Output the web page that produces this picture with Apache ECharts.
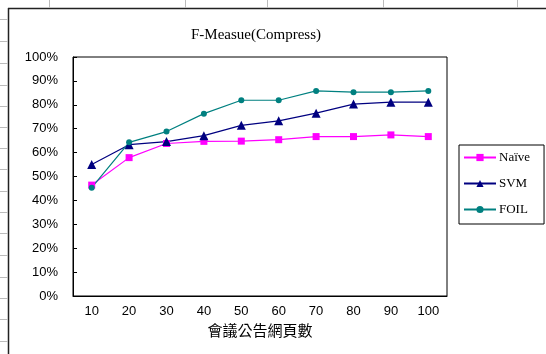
<!DOCTYPE html>
<html>
<head>
<meta charset="utf-8">
<script src="https://cdn.jsdelivr.net/npm/echarts@6/dist/echarts.min.js"></script>
<style>
  html, body { margin: 0; padding: 0; background: #ffffff; }
  #chart { width: 546px; height: 354px; }
</style>
</head>
<body>
<div id="chart"></div>
<script>
// Number of conference announcement pages
const categories = ['10', '20', '30', '40', '50', '60', '70', '80', '90', '100'];

// F-measure (%) per classifier
const naive = [46.4, 57.9, 63.8, 64.7, 64.8, 65.4, 66.7, 66.7, 67.4, 66.7];
const svm   = [55.0, 63.3, 64.6, 67.1, 71.4, 73.3, 76.5, 80.3, 81.1, 81.1];
const foil  = [45.3, 64.3, 68.8, 76.3, 81.9, 81.9, 85.8, 85.3, 85.3, 85.8];

const seriesNames = ['Naïve', 'SVM', 'FOIL'];

const serif = '"Liberation Serif", "Times New Roman", serif';
const sans = '"Liberation Sans", Arial, sans-serif';

// Sheet frame: outer border plus the faint row/column ticks around it
const frame = [
  { type: 'line', shape: { x1: 8, y1: 8.5, x2: 546, y2: 8.5 }, style: { stroke: '#222', lineWidth: 1.5 } },
  { type: 'line', shape: { x1: 8.5, y1: 8, x2: 8.5, y2: 354 }, style: { stroke: '#222', lineWidth: 1.5 } }
];
[49, 185, 267, 383, 517].forEach(function (x) {
  frame.push({ type: 'line', shape: { x1: x + 0.5, y1: 0, x2: x + 0.5, y2: 8 }, style: { stroke: '#bbb', lineWidth: 1 } });
});
[19, 41, 63, 85, 106, 127, 148, 169, 191, 212, 233, 255, 277, 298, 319, 341].forEach(function (y) {
  frame.push({ type: 'line', shape: { x1: 0, y1: y + 0.5, x2: 8, y2: y + 0.5 }, style: { stroke: '#bbb', lineWidth: 1 } });
});

const chart = echarts.init(document.getElementById('chart'), null, { renderer: 'canvas' });

chart.setOption({
  backgroundColor: '#ffffff',
  animation: false,
  graphic: frame,
  title: {
    text: 'F-Measue(Compress)',
    left: 251,
    top: 23,
    textAlign: 'center',
    textStyle: { fontFamily: serif, fontSize: 15, fontWeight: 'normal', color: '#000' }
  },
  legend: {
    orient: 'vertical',
    left: 459,
    top: 145,
    width: 83,
    padding: [6, 14, 8, 4],
    borderColor: '#000',
    borderWidth: 1,
    backgroundColor: '#fff',
    itemWidth: 32,
    itemHeight: 9,
    itemGap: 13,
    data: seriesNames,
    textStyle: { fontFamily: serif, fontSize: 13, color: '#000', padding: [0, 0, 0, -2] }
  },
  grid: {
    left: 73,
    right: 99,
    top: 57,
    bottom: 58,
    show: true,
    borderColor: '#000',
    borderWidth: 1,
    backgroundColor: 'transparent'
  },
  xAxis: {
    type: 'category',
    data: categories,
    boundaryGap: true,
    name: '會議公告網頁數',
    nameLocation: 'middle',
    nameGap: 17,
    nameTextStyle: { fontFamily: '"Noto Sans CJK TC", sans-serif', fontSize: 15, color: '#000' },
    axisLine: { lineStyle: { color: '#000', width: 1 } },
    axisTick: { inside: true, length: 4, lineStyle: { color: '#000' } },
    axisLabel: { margin: 9, fontFamily: sans, fontSize: 13, color: '#000' }
  },
  yAxis: {
    type: 'value',
    min: 0,
    max: 100,
    interval: 10,
    axisLine: { show: true, lineStyle: { color: '#000', width: 1 } },
    axisTick: { show: true, inside: true, length: 4, lineStyle: { color: '#000' } },
    splitLine: { show: false },
    axisLabel: { margin: 15, fontFamily: sans, fontSize: 13, color: '#000', formatter: '{value}%' }
  },
  series: [
    {
      name: seriesNames[0],
      type: 'line',
      data: naive,
      symbol: 'rect',
      symbolSize: 7,
      color: '#FF00FF',
      lineStyle: { width: 1.2 }
    },
    {
      name: seriesNames[1],
      type: 'line',
      data: svm,
      symbol: 'triangle',
      symbolSize: 9,
      color: '#000080',
      lineStyle: { width: 1.2 }
    },
    {
      name: seriesNames[2],
      type: 'line',
      data: foil,
      symbol: 'circle',
      symbolSize: 6,
      color: '#008080',
      lineStyle: { width: 1.2 }
    }
  ]
});
</script>
</body>
</html>
